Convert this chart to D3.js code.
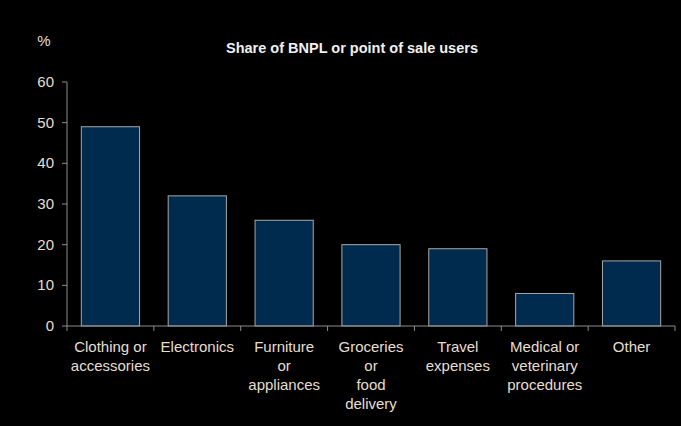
<!DOCTYPE html>
<html><head><meta charset="utf-8">
<script src="https://d3js.org/d3.v7.min.js"></script>
<style>body{margin:0;background:#000}</style>
</head><body>
<script>
var categories = [["Clothing or","accessories"],["Electronics"],["Furniture","or","appliances"],["Groceries","or","food","delivery"],["Travel","expenses"],["Medical or","veterinary","procedures"],["Other"]];
var values = [49, 32, 26, 20, 19, 8, 16];
var yTicks = [0, 10, 20, 30, 40, 50, 60];

var svg = d3.select("body").append("svg").attr("width", 681).attr("height", 426)
    .style("background", "#000").style("font-family", "Arial, 'Liberation Sans', sans-serif");

var x = d3.scaleBand().domain(d3.range(values.length)).range([67, 675]).paddingInner(0.33).paddingOuter(0.165);
var y = d3.scaleLinear().domain([0, 60]).range([326, 82]);
var txt = "#e6dfd0", axc = "#8c8c8c";

svg.selectAll("rect").data(values).enter().append("rect")
    .attr("x", function(d, i) { return x(i); })
    .attr("y", function(d) { return y(d); })
    .attr("width", x.bandwidth())
    .attr("height", function(d) { return y(0) - y(d); })
    .attr("fill", "#002b4f").attr("stroke", "#a8a8a8").attr("stroke-width", 1);

// y axis
svg.append("line").attr("x1", 67).attr("x2", 67).attr("y1", y(60)).attr("y2", y(0)).attr("stroke", axc);
svg.selectAll(".yt").data(yTicks).enter().append("line")
    .attr("x1", 62).attr("x2", 67).attr("y1", function(d) { return y(d); }).attr("y2", function(d) { return y(d); }).attr("stroke", axc);
svg.selectAll(".yl").data(yTicks).enter().append("text")
    .attr("x", 54).attr("y", function(d) { return y(d) + 5; }).attr("text-anchor", "end")
    .attr("font-size", 15).attr("fill", txt).text(function(d) { return d; });

// x axis
svg.append("line").attr("x1", 67).attr("x2", 675).attr("y1", y(0)).attr("y2", y(0)).attr("stroke", axc);
svg.selectAll(".xt").data(d3.range(values.length + 1)).enter().append("line")
    .attr("x1", function(i) { return 67 + i * (608 / values.length); })
    .attr("x2", function(i) { return 67 + i * (608 / values.length); })
    .attr("y1", y(0)).attr("y2", y(0) + 5).attr("stroke", axc);

var lab = svg.selectAll(".xl").data(categories).enter().append("text")
    .attr("text-anchor", "middle").attr("font-size", 15).attr("fill", txt)
    .attr("transform", function(d, i) { return "translate(" + (x(i) + x.bandwidth() / 2) + ",352)"; });
lab.selectAll("tspan").data(function(d) { return d; }).enter().append("tspan")
    .attr("x", 0).attr("dy", function(d, j) { return j ? 19 : 0; }).text(function(d) { return d; });

svg.append("text").attr("x", 44).attr("y", 46).attr("text-anchor", "middle").attr("font-size", 15).attr("fill", txt).text("%");
svg.append("text").attr("x", 352).attr("y", 53).attr("text-anchor", "middle").attr("font-size", 14.5)
    .attr("font-weight", "bold").attr("fill", "#f0f0f0").text("Share of BNPL  or point of sale users");
</script>
</body></html>
